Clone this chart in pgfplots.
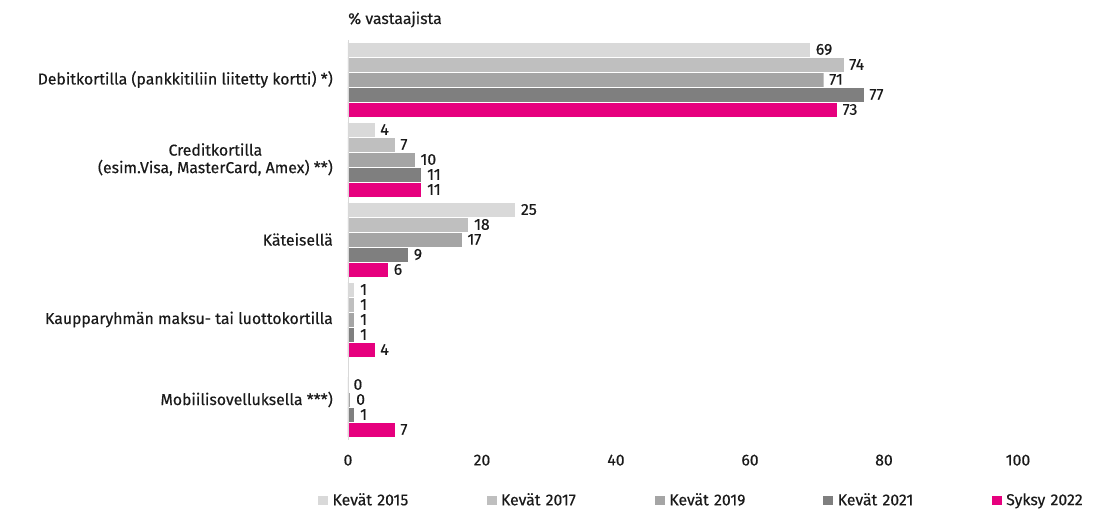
\documentclass[border=0pt]{standalone}
\usepackage{pgfplots}
\pgfplotsset{compat=1.18}
\usepackage{pgfplotstable}
\usepackage{fontspec}
\setmainfont{Fira Sans}[FakeBold=0.35]
\definecolor{cA}{HTML}{D9D9D9}
\definecolor{cB}{HTML}{BFBFBF}
\definecolor{cC}{HTML}{A5A5A5}
\definecolor{cD}{HTML}{7F7F7F}
\definecolor{cE}{HTML}{E6007E}
\definecolor{txt}{HTML}{1A1A1A}
\pgfplotstableread{
y a b c d e
4 69 74 71 77 73
3 4 7 10 11 11
2 25 18 17 9 6
1 1 1 1 1 4
0 nan 0 0.4 1 7
}\data
\begin{document}
\begin{tikzpicture}[font=\fontsize{15.8pt}{17.5pt}\selectfont, text=txt]
\path[use as bounding box] (-348pt,-72.5pt) rectangle (751pt,439.5pt);
\begin{axis}[
  /pgf/number format/assume math mode=true,
  scale only axis,
  width=670pt, height=400pt,
  xbar, bar width=15pt,
  xmin=0, xmax=100,
  ymin=-0.5, ymax=4.5,
  xtick={0,20,...,100},
  ytick={0,1,2,3,4},
  yticklabels={Mobiilisovelluksella ***), Kaupparyhmän maksu- tai luottokortilla, Käteisellä, {Creditkortilla\\(esim.Visa, MasterCard, Amex) **)}, Debitkortilla (pankkitiliin liitetty kortti) *)},
  yticklabel style={align=center, inner sep=0pt, xshift=-15pt},
  xticklabel style={inner sep=0pt, yshift=-15pt},
  major tick length=0pt,
  axis line style={draw=none},
  tick style={draw=none},
  every axis plot/.append style={draw=white, line width=0.4pt},
  nodes near coords={\pgfmathprintnumber[fixed,precision=0]{\pgfplotspointmeta}},
  nodes near coords style={anchor=west, xshift=2pt, text=txt},
  point meta=x,
  legend columns=5,
  legend style={at={(-31/670,-60.5/400)}, anchor=west, draw=none, fill=none, inner sep=0pt,
    /tikz/every odd column/.style={column sep=4pt},
    /tikz/every even column/.style={column sep=0pt},
    nodes={inner sep=0pt, text width=153pt, align=left, anchor=west}},
  legend image code/.code={\fill[#1] (0pt,-5pt) rectangle (11pt,5pt);},
  after end axis/.code={
    \draw[cA, line width=0.8pt] (rel axis cs:0,0) -- (rel axis cs:0,1);
    \node[anchor=base west, inner sep=0pt] at ([yshift=15.5pt]rel axis cs:0,1) {\% vastaajista};
  },
]
\addplot[fill=cA, bar shift=30pt] table[x=a, y=y] {\data};
\addplot[fill=cB, bar shift=15pt] table[x=b, y=y] {\data};
\addplot[fill=cC, bar shift=0pt] table[x=c, y=y] {\data};
\addplot[fill=cD, bar shift=-15pt] table[x=d, y=y] {\data};
\addplot[fill=cE, bar shift=-30pt] table[x=e, y=y] {\data};
\legend{Kevät 2015, Kevät 2017, Kevät 2019, Kevät 2021, Syksy 2022}
\end{axis}
\end{tikzpicture}
\end{document}
